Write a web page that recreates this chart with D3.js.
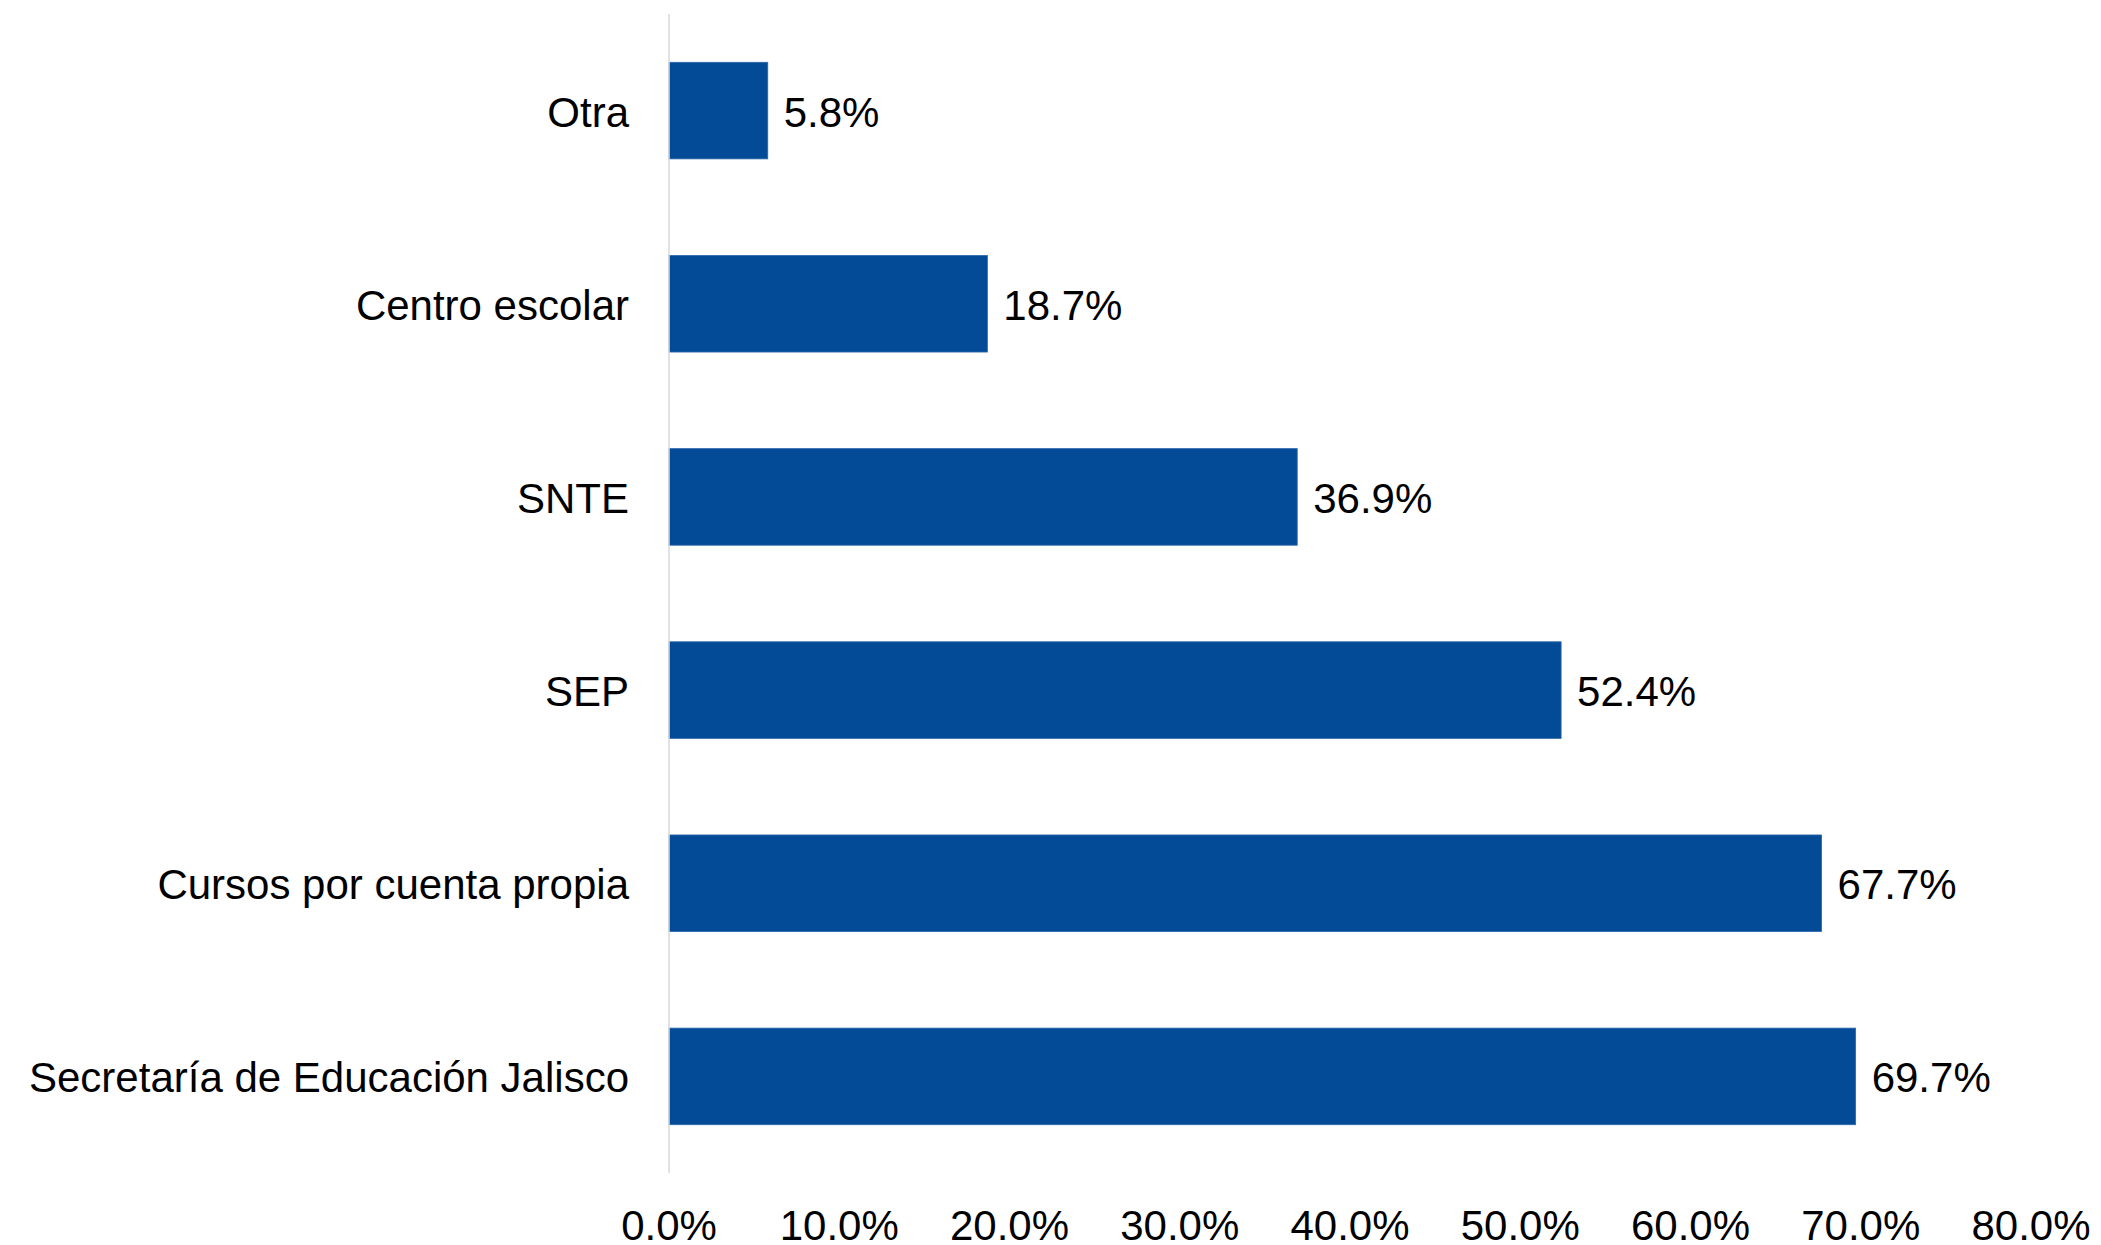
<!DOCTYPE html>
<html>
<head>
<meta charset="utf-8">
<script src="https://cdn.jsdelivr.net/npm/d3@7"></script>
<style>
  html, body { margin: 0; padding: 0; background: #ffffff; }
  svg { display: block; }
</style>
</head>
<body>
<svg id="chart" width="2101" height="1245"></svg>
<script>
const categories = ["Otra", "Centro escolar", "SNTE", "SEP", "Cursos por cuenta propia", "Secretaría de Educación Jalisco"];
const values = [5.8, 18.7, 36.9, 52.4, 67.7, 69.7];
const tickValues = [0, 10, 20, 30, 40, 50, 60, 70, 80];
const tickLabels = ["0.0%", "10.0%", "20.0%", "30.0%", "40.0%", "50.0%", "60.0%", "70.0%", "80.0%"];

const svg = d3.select("#chart");
const font = "'Liberation Sans', Arial, sans-serif";
const fontSize = 42;

const x = d3.scaleLinear().domain([0, 80]).range([669, 2031]);
const y = d3.scaleBand().domain(categories).range([14, 1173]).paddingInner(0.5).paddingOuter(0.25);

// bars
svg.append("g").selectAll("rect")
  .data(categories)
  .join("rect")
  .attr("x", x(0))
  .attr("y", d => y(d))
  .attr("width", (d, i) => x(values[i]) - x(0))
  .attr("height", y.bandwidth())
  .attr("fill", "#034B96")
  .attr("stroke", "#2C67AB")
  .attr("stroke-width", 0.8);

// vertical axis line
svg.append("line")
  .attr("x1", x(0)).attr("x2", x(0))
  .attr("y1", 14).attr("y2", 1173)
  .attr("stroke", "#D9D9D9")
  .attr("stroke-width", 1.5);

// category labels
svg.append("g").selectAll("text")
  .data(categories)
  .join("text")
  .attr("x", x(0) - 40)
  .attr("y", d => y(d) + y.bandwidth() / 2 + 16)
  .attr("text-anchor", "end")
  .attr("font-family", font)
  .attr("font-size", fontSize)
  .attr("fill", "#000")
  .text(d => d);

// value labels
svg.append("g").selectAll("text")
  .data(categories)
  .join("text")
  .attr("x", (d, i) => x(values[i]) + 16)
  .attr("y", d => y(d) + y.bandwidth() / 2 + 16)
  .attr("text-anchor", "start")
  .attr("font-family", font)
  .attr("font-size", fontSize)
  .attr("fill", "#000")
  .text((d, i) => values[i].toFixed(1) + "%");

// x tick labels
svg.append("g").selectAll("text")
  .data(tickValues)
  .join("text")
  .attr("x", d => x(d))
  .attr("y", 1240)
  .attr("text-anchor", "middle")
  .attr("font-family", font)
  .attr("font-size", fontSize)
  .attr("fill", "#000")
  .text((d, i) => tickLabels[i]);
</script>
</body>
</html>
